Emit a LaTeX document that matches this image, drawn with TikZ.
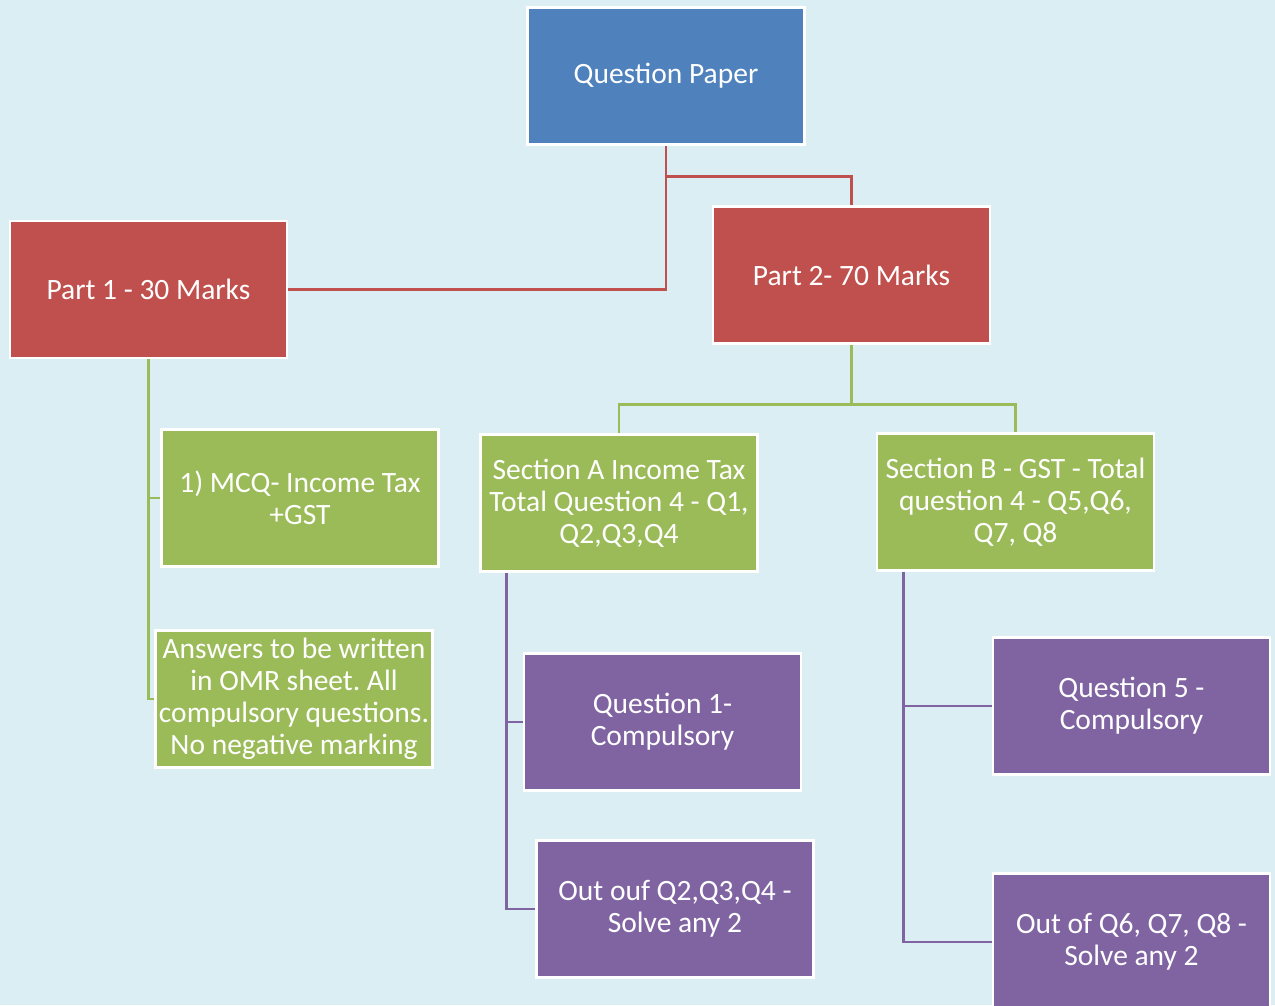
\documentclass[tikz,border=0pt]{standalone}
\usepackage{fontspec}
\setmainfont{Carlito}
\usetikzlibrary{calc}
\frenchspacing
\definecolor{bgcol}{HTML}{DBEEF4}
\definecolor{bluebox}{HTML}{4F81BD}
\definecolor{redbox}{HTML}{C0504D}
\definecolor{greenbox}{HTML}{9BBB59}
\definecolor{purplebox}{HTML}{8064A2}
\begin{document}
\begin{tikzpicture}[x=1pt,y=-1pt,
  box/.style={draw=white, line width=2.5pt, minimum width=277pt, minimum height=137pt,
    inner sep=2pt, align=center, text=white,
    font=\fontsize{29.5pt}{32pt}\selectfont},
  bluenode/.style={box, fill=bluebox},
  rednode/.style={box, fill=redbox},
  greennode/.style={box, fill=greenbox},
  purplenode/.style={box, fill=purplebox},
  link/.style={line width=2.6pt},
  redlink/.style={link, draw=redbox},
  greenlink/.style={link, draw=greenbox},
  purplelink/.style={link, draw=purplebox}]
  \fill[bgcol] (0,0) rectangle (1275,1005);
  \useasboundingbox (0,0) rectangle (1275,1005);
  \clip (0,0) rectangle (1275,1005);

  % top level
  \node[bluenode] (qp) at (666,76) {Question Paper};
  \node[rednode] (p1) at (148.5,289.5) {Part 1 - 30 Marks};
  \node[rednode] (p2) at (851.5,275) {Part 2- 70 Marks};

  % part 1 children
  \node[greennode] (mcq) at (300,498) {1) MCQ- Income Tax\\+GST};
  \node[greennode] (ans) at (294,699) {Answers to be written\\in OMR sheet. All\\compulsory questions.\\No negative marking};

  % part 2 children
  \node[greennode] (sa) at (619,503) {Section A Income Tax\\Total Question 4 - Q1,\\Q2,Q3,Q4};
  \node[greennode] (sb) at (1015.5,502) {Section B - GST - Total\\question 4 - Q5,Q6,\\Q7, Q8};

  % section children
  \node[purplenode] (q1) at (662.5,722) {Question 1-\\Compulsory};
  \node[purplenode] (oa) at (675,909) {Out ouf Q2,Q3,Q4 -\\Solve any 2};
  \node[purplenode] (q5) at (1131.5,706) {Question 5 -\\Compulsory};
  \node[purplenode] (ob) at (1131.5,942) {Out of Q6, Q7, Q8 -\\Solve any 2};

  % junction points
  \coordinate (qpj) at ($(qp.south)+(0,31)$);
  \coordinate (p2j) at ($(p2.south)+(0,60)$);
  \coordinate (sat) at ($(sa.south west)+(27,0)$);
  \coordinate (sbt) at ($(sb.south west)+(28,0)$);

  % connectors
  \draw[redlink] (qp.south) |- (p1.east);
  \draw[redlink] (qpj) -| (p2.north);
  \draw[greenlink] (p2.south) -- (p2j);
  \draw[greenlink] (p2j) -| (sa.north);
  \draw[greenlink] (p2j) -| (sb.north);
  \draw[greenlink] (p1.south) |- (mcq.west);
  \draw[greenlink] (p1.south) |- (ans.west);
  \draw[purplelink] (sat) |- (q1.west);
  \draw[purplelink] (sat) |- (oa.west);
  \draw[purplelink] (sbt) |- (q5.west);
  \draw[purplelink] (sbt) |- (ob.west);
\end{tikzpicture}
\end{document}
